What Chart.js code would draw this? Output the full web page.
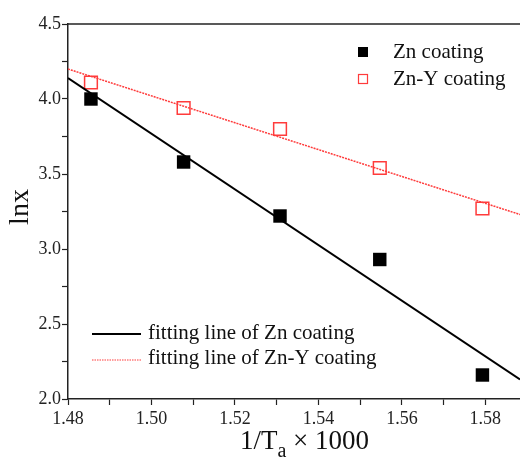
<!DOCTYPE html>
<html>
<head>
<meta charset="utf-8">
<script src="https://cdn.jsdelivr.net/npm/chart.js@4"></script>
<style>
  html, body { margin: 0; padding: 0; background: #fff; }
  #wrap { width: 520px; height: 459px; }
</style>
</head>
<body>
<div id="wrap"><canvas id="arrheniusChart" width="520" height="459"></canvas></div>
<script>
// 1/Ta x 1000 values
var invTemp = [1.4855, 1.5077, 1.5308, 1.5547, 1.5793];
// lnx for each coating
var znValues = [4.00, 3.58, 3.22, 2.93, 2.16];
var znYValues = [4.11, 3.94, 3.80, 3.54, 3.27];
// fitting lines, read at both ends of the x range
var fitX = [1.48, 1.5883];
var znFit = [4.14, 2.13];
var znYFit = [4.20, 3.23];

var RED = '#ff3b3b';
var FONT = '"Liberation Serif", "Times New Roman", serif';
Chart.defaults.font.family = FONT;

function toPoints(xs, ys) {
  return xs.map(function (x, i) { return { x: x, y: ys[i] }; });
}

// Draws the top frame line, the axis titles and the two legends
var decorations = {
  id: 'decorations',
  afterDraw: function (chart) {
    var ctx = chart.ctx;
    var area = chart.chartArea;
    ctx.save();

    // top frame
    ctx.strokeStyle = '#222';
    ctx.lineWidth = 1.5;
    ctx.beginPath();
    ctx.moveTo(area.left, area.top);
    ctx.lineTo(area.right, area.top);
    ctx.stroke();

    ctx.fillStyle = '#111';

    // y title
    ctx.save();
    ctx.translate(21, 207);
    ctx.rotate(-Math.PI / 2);
    ctx.textAlign = 'center';
    ctx.textBaseline = 'middle';
    ctx.font = '28px ' + FONT;
    ctx.fillText('lnx', 0, 0);
    ctx.restore();

    // x title with subscript
    ctx.textAlign = 'left';
    ctx.textBaseline = 'alphabetic';
    var startX = 240;
    var baseY = 449;
    ctx.font = '27px ' + FONT;
    ctx.fillText('1/T', startX, baseY);
    var w1 = ctx.measureText('1/T').width;
    ctx.font = '20px ' + FONT;
    ctx.fillText('a', startX + w1, baseY + 8);
    var w2 = ctx.measureText('a').width;
    ctx.font = '27px ' + FONT;
    ctx.fillText(' \u00d7 1000', startX + w1 + w2, baseY);

    // marker legend (top right)
    ctx.textBaseline = 'middle';
    ctx.font = '21px ' + FONT;
    ctx.fillStyle = '#000';
    ctx.fillRect(358, 47, 10, 10);
    ctx.fillStyle = '#111';
    ctx.fillText('Zn coating', 393, 52);
    ctx.strokeStyle = RED;
    ctx.lineWidth = 1.2;
    ctx.strokeRect(358.5, 74.5, 9, 9);
    ctx.fillText('Zn-Y coating', 393, 79);

    // line legend (bottom left)
    ctx.strokeStyle = '#000';
    ctx.lineWidth = 2;
    ctx.beginPath();
    ctx.moveTo(92, 334);
    ctx.lineTo(141, 334);
    ctx.stroke();
    ctx.fillText('fitting line of Zn coating', 148, 333);
    ctx.strokeStyle = RED;
    ctx.lineWidth = 1.2;
    ctx.setLineDash([1.5, 1]);
    ctx.beginPath();
    ctx.moveTo(92, 360);
    ctx.lineTo(141, 360);
    ctx.stroke();
    ctx.setLineDash([]);
    ctx.fillText('fitting line of Zn-Y coating', 148, 358);

    ctx.restore();
  }
};

var ctx = document.getElementById('arrheniusChart').getContext('2d');
window.arrheniusChart = new Chart(ctx, {
  type: 'scatter',
  data: {
    datasets: [{
      label: 'fitting line of Zn coating',
      type: 'line',
      data: toPoints(fitX, znFit),
      borderColor: '#000',
      borderWidth: 2,
      pointRadius: 0,
      fill: false
    }, {
      label: 'fitting line of Zn-Y coating',
      type: 'line',
      data: toPoints(fitX, znYFit),
      borderColor: RED,
      borderWidth: 1.5,
      borderDash: [2, 1],
      pointRadius: 0,
      fill: false
    }, {
      label: 'Zn coating',
      data: toPoints(invTemp, znValues),
      pointStyle: 'rect',
      pointRadius: 9.5,
      backgroundColor: '#000',
      borderColor: '#000',
      borderWidth: 0
    }, {
      label: 'Zn-Y coating',
      data: toPoints(invTemp, znYValues),
      pointStyle: 'rect',
      pointRadius: 9,
      backgroundColor: 'rgba(0,0,0,0)',
      borderColor: RED,
      borderWidth: 1.5
    }]
  },
  options: {
    responsive: false,
    animation: false,
    layout: { autoPadding: false, padding: { top: 24, right: 0, left: 0, bottom: 0 } },
    plugins: {
      legend: { display: false },
      tooltip: { enabled: false }
    },
    scales: {
      x: {
        type: 'linear',
        min: 1.48,
        max: 1.5883,
        afterFit: function (scale) {
          scale.height = 60;
          scale.paddingLeft = 0;
          scale.paddingRight = 0;
        },
        afterBuildTicks: function (scale) {
          var ticks = [];
          for (var i = 0; i <= 10; i++) {
            ticks.push({ value: Math.round((1.48 + i * 0.01) * 1000) / 1000 });
          }
          scale.ticks = ticks;
        },
        border: { color: '#222', width: 1.5 },
        grid: { drawOnChartArea: false, tickLength: 6, color: '#222', tickWidth: 1.2 },
        ticks: {
          color: '#222',
          font: { family: FONT, size: 18 },
          padding: 3,
          maxRotation: 0,
          autoSkip: false,
          callback: function (v) {
            var k = Math.round(v * 100);
            return k % 2 === 0 ? v.toFixed(2) : '';
          }
        }
      },
      y: {
        min: 2.0,
        max: 4.5,
        afterFit: function (scale) {
          scale.width = 68;
          scale.paddingTop = 0;
          scale.paddingBottom = 0;
        },
        border: { color: '#222', width: 1.5 },
        grid: { drawOnChartArea: false, tickLength: 6, color: '#222', tickWidth: 1.2 },
        ticks: {
          stepSize: 0.25,
          color: '#222',
          font: { family: FONT, size: 18 },
          padding: 1,
          autoSkip: false,
          callback: function (v) {
            var k = Math.round(v * 100);
            return k % 50 === 0 ? v.toFixed(1) : '';
          }
        }
      }
    }
  },
  plugins: [decorations]
});
</script>
</body>
</html>
